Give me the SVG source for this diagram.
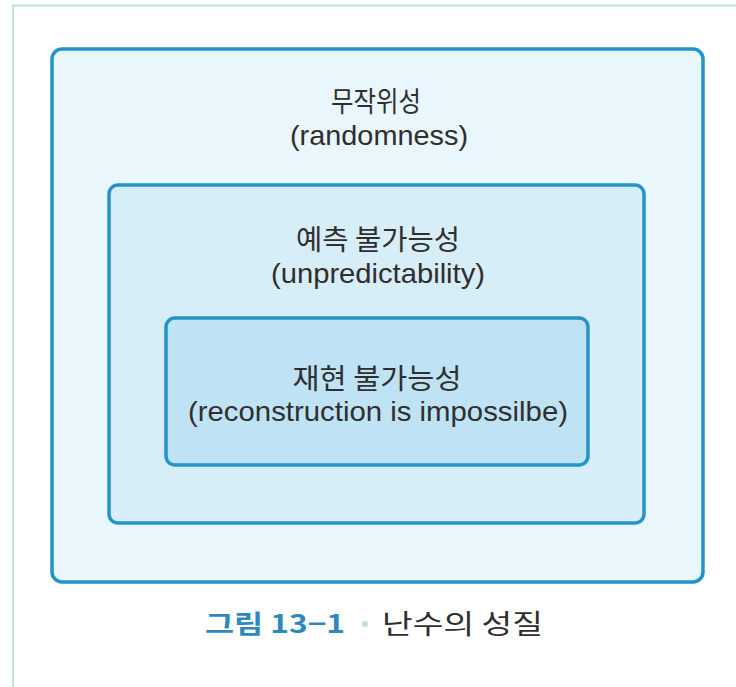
<svg xmlns="http://www.w3.org/2000/svg" width="736" height="687" viewBox="0 0 736 687">
  <style>
    .box { stroke: #2394c8; stroke-width: 3.5; }
    .ko { font-family: "Noto Sans CJK KR", "Liberation Sans", sans-serif; font-size: 28px; fill: #2f2f2f; text-anchor: middle; }
    .en { font-family: "Liberation Sans", "Noto Sans CJK KR", sans-serif; font-size: 28px; fill: #2f2f2f; text-anchor: middle; }
  </style>
  <rect x="0" y="0" width="736" height="687" fill="#ffffff"/>
  <g id="frame">
    <path d="M13,687 L13,5.5 L736,5.5" fill="none" stroke="#bfe2ea" stroke-width="2"/>
  </g>
  <g id="outer">
    <rect class="box" x="52" y="49" width="651" height="533" rx="10" fill="#e9f6fc"/>
    <text class="ko" x="376" y="112" textLength="90" lengthAdjust="spacingAndGlyphs">무작위성</text>
    <text class="en" x="379" y="145" textLength="178" lengthAdjust="spacingAndGlyphs">(randomness)</text>
  </g>
  <g id="middle">
    <rect class="box" x="109" y="185" width="535" height="338" rx="9" fill="#d7edf8"/>
    <text class="ko" x="378" y="250" textLength="164" lengthAdjust="spacingAndGlyphs">예측 불가능성</text>
    <text class="en" x="378" y="283" textLength="214" lengthAdjust="spacingAndGlyphs">(unpredictability)</text>
  </g>
  <g id="inner">
    <rect class="box" x="166" y="318" width="422" height="147" rx="9" fill="#bfe3f5"/>
    <text class="ko" x="377" y="389" textLength="169" lengthAdjust="spacingAndGlyphs">재현 불가능성</text>
    <text class="en" x="378" y="421" textLength="380" lengthAdjust="spacingAndGlyphs">(reconstruction is impossilbe)</text>
  </g>
  <g id="caption">
    <text x="205" y="633" font-family="Noto Sans CJK KR, Liberation Sans, sans-serif" font-size="25" font-weight="bold" fill="#2f88bd" textLength="140" lengthAdjust="spacingAndGlyphs">그림 13−1</text>
    <circle cx="365" cy="624" r="3" fill="#bcdde9"/>
    <text x="382" y="634" font-family="Noto Sans CJK KR, Liberation Sans, sans-serif" font-size="27" fill="#2f2f2f" textLength="161" lengthAdjust="spacingAndGlyphs">난수의 성질</text>
  </g>
</svg>
